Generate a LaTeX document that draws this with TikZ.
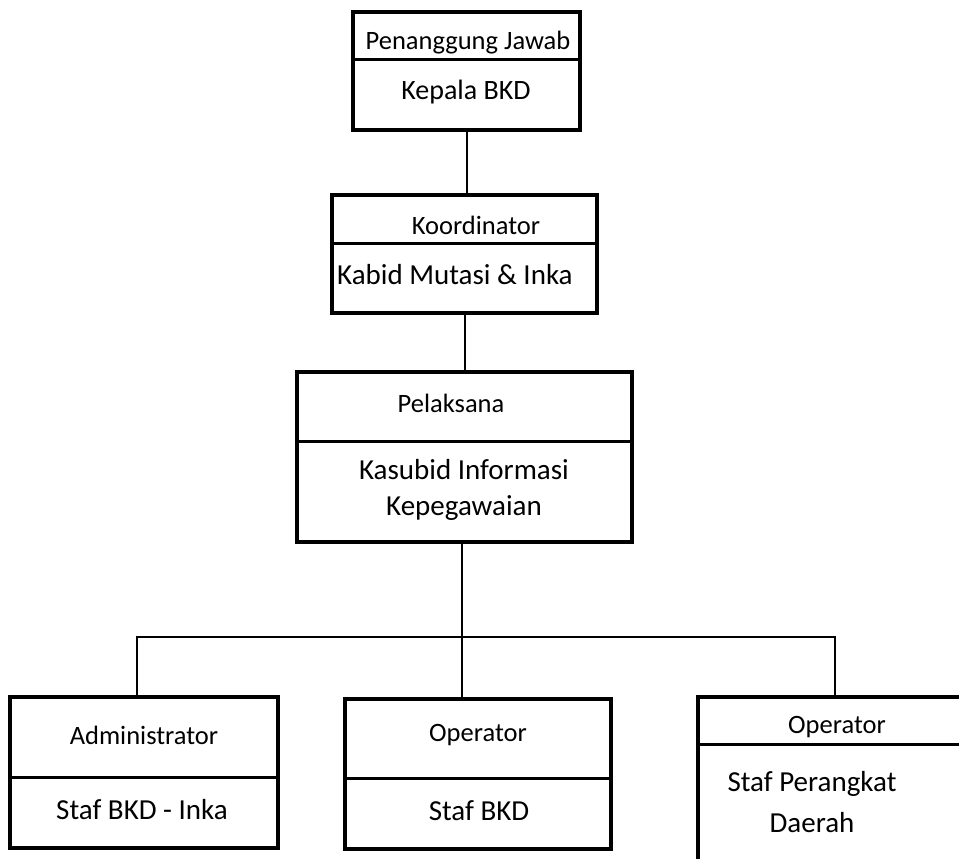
\documentclass[tikz,border=0pt]{standalone}
\usepackage{fontspec}
\setmainfont{Carlito}
\begin{document}
\begin{tikzpicture}[x=1pt,y=-1pt,
  box/.style={draw, line width=4pt, inner sep=0pt, outer sep=0pt},
  divline/.style={line width=3pt},
  conn/.style={line width=2pt},
  role/.style={font=\fontsize{26.5}{30}\selectfont, inner sep=0pt},
  person/.style={font=\fontsize{29}{36}\selectfont, inner sep=0pt, align=center}]
\useasboundingbox (0,0) rectangle (959,859);
\clip (0,0) rectangle (959,859);
% boxes
\node[box, minimum width=227pt, minimum height=118pt] (b1) at (466.5,71) {};
\node[box, minimum width=265pt, minimum height=118pt] (b2) at (464.5,254) {};
\node[box, minimum width=335pt, minimum height=170pt] (b3) at (464.5,457) {};
\node[box, minimum width=268pt, minimum height=151pt] (b4) at (144,772.5) {};
\node[box, minimum width=266pt, minimum height=150pt] (b5) at (478,774) {};
\node[box, minimum width=290pt, minimum height=186pt] (b6) at (843,790) {};
% dividers
\draw[divline] (b1.west |- 0,60) -- (b1.east |- 0,60);
\draw[divline] (b2.west |- 0,243) -- (b2.east |- 0,243);
\draw[divline] (b3.west |- 0,441) -- (b3.east |- 0,441);
\draw[divline] (b4.west |- 0,777) -- (b4.east |- 0,777);
\draw[divline] (b5.west |- 0,778) -- (b5.east |- 0,778);
\draw[divline] (b6.west |- 0,744) -- (b6.east |- 0,744);
% labels
\node[role] (t1a) at (468,43) {Penanggung Jawab};
\node[person, font=\fontsize{28}{34}\selectfont] (t1b) at (466,92) {Kepala BKD};
\node[role] (t2a) at (476,225) {Koordinator};
\node[person, anchor=west] (t2b) at (337,275) {Kabid Mutasi \& Inka};
\node[role] (t3a) at (451,403) {Pelaksana};
\node[person] (t3b) at (464,490) {Kasubid Informasi\\Kepegawaian};
\node[role] (t4a) at (144,735) {Administrator};
\node[person] (t4b) at (142,810) {Staf BKD - Inka};
\node[role] (t5a) at (478,735) {Operator};
\node[person] (t5b) at (479,811) {Staf BKD};
\node[role] (t6a) at (837,727) {Operator};
\node[person, font=\fontsize{29}{41}\selectfont] (t6b) at (812,802) {Staf Perangkat\\Daerah};
% connectors
\coordinate (j4) at (137,637);
\coordinate (j5) at (462,637);
\coordinate (j6) at (835,637);
\draw[conn] (b1.south) -- (b1.south |- b2.north);
\draw[conn] (b2.south) -- (b2.south |- b3.north);
\draw[conn] (j5 |- b3.south) -- (j5 |- b5.north);
\draw[conn] (j4 |- b4.north) -- (j4) -- (j6) -- (j6 |- b6.north);
\end{tikzpicture}
\end{document}
